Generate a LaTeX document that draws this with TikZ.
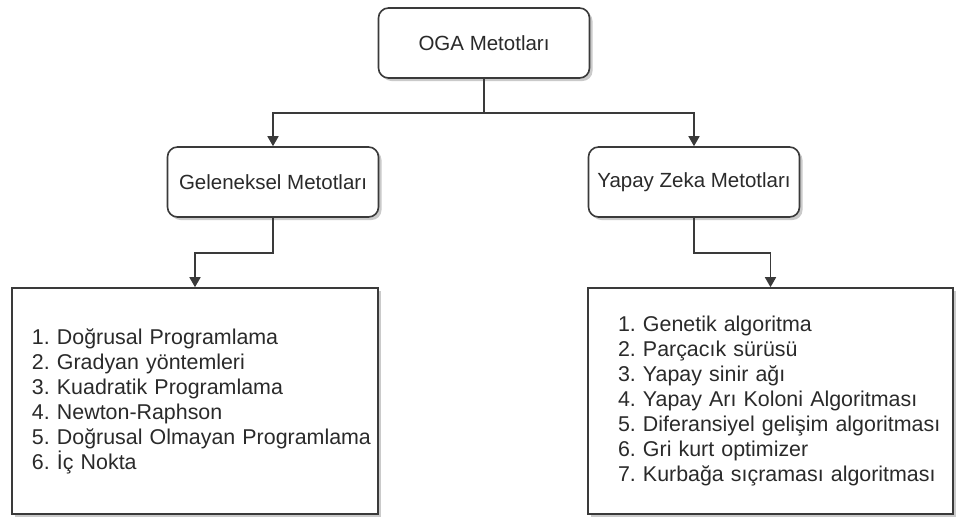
\documentclass[tikz,border=0pt]{standalone}
\usepackage{fontspec}
\setmainfont{Liberation Sans}
\usetikzlibrary{shadows,arrows.meta}
\definecolor{edge}{HTML}{3A3A3A}
\definecolor{txt}{HTML}{2A2A2A}
\frenchspacing
\begin{document}
\begin{tikzpicture}[x=1pt,y=-1pt,
  shad/.style={drop shadow={shadow xshift=3pt,shadow yshift=-3pt,opacity=0.35,fill=black!60}},
  headbox/.style={draw=edge,line width=1.6pt,fill=white,rounded corners=10pt,
    minimum width=211pt,minimum height=70pt,text=txt,
    font=\fontsize{20.5}{24}\selectfont,shad},
  listbox/.style={draw=edge,line width=1.6pt,fill=white,align=left,text=txt,
    font=\fontsize{21.4}{25}\selectfont,shad,minimum height=226pt,
    inner ysep=0pt,inner xsep=0pt},
  conn/.style={draw=edge,line width=1.6pt,-{Triangle[length=10pt,width=11pt]}}]
\useasboundingbox (0,0) rectangle (956,523);
\node[headbox] (oga) at (484,43) {OGA Metotları};
\node[headbox] (gel) at (273,182) {Geleneksel Metotları};
\node[headbox] (yz) at (694,182) {Yapay Zeka Metotları};
\node[listbox,text width=366pt] (L) at (195,401) {\leftskip=20pt
1. Doğrusal Programlama\\
2. Gradyan yöntemleri\\
3. Kuadratik Programlama\\
4. Newton-Raphson\\
5. Doğrusal Olmayan Programlama\\
6. İç Nokta\par};
\node[listbox,text width=365pt] (R) at (770.5,401) {\leftskip=30pt
1. Genetik algoritma\\
2. Parçacık sürüsü\\
3. Yapay sinir ağı\\
4. Yapay Arı Koloni Algoritması\\
5. Diferansiyel gelişim algoritması\\
6. Gri kurt optimizer\\
7. Kurbağa sıçraması algoritması\par};
\draw[conn] (oga.south) |- ++(0,34) -| (gel.north);
\draw[conn] (oga.south) |- ++(0,34) -| (yz.north);
\draw[conn] (gel.south) |- ++(0,35) -| (L.north);
\draw[conn] (yz.south) |- ++(0,35) -| (R.north);
\end{tikzpicture}
\end{document}
